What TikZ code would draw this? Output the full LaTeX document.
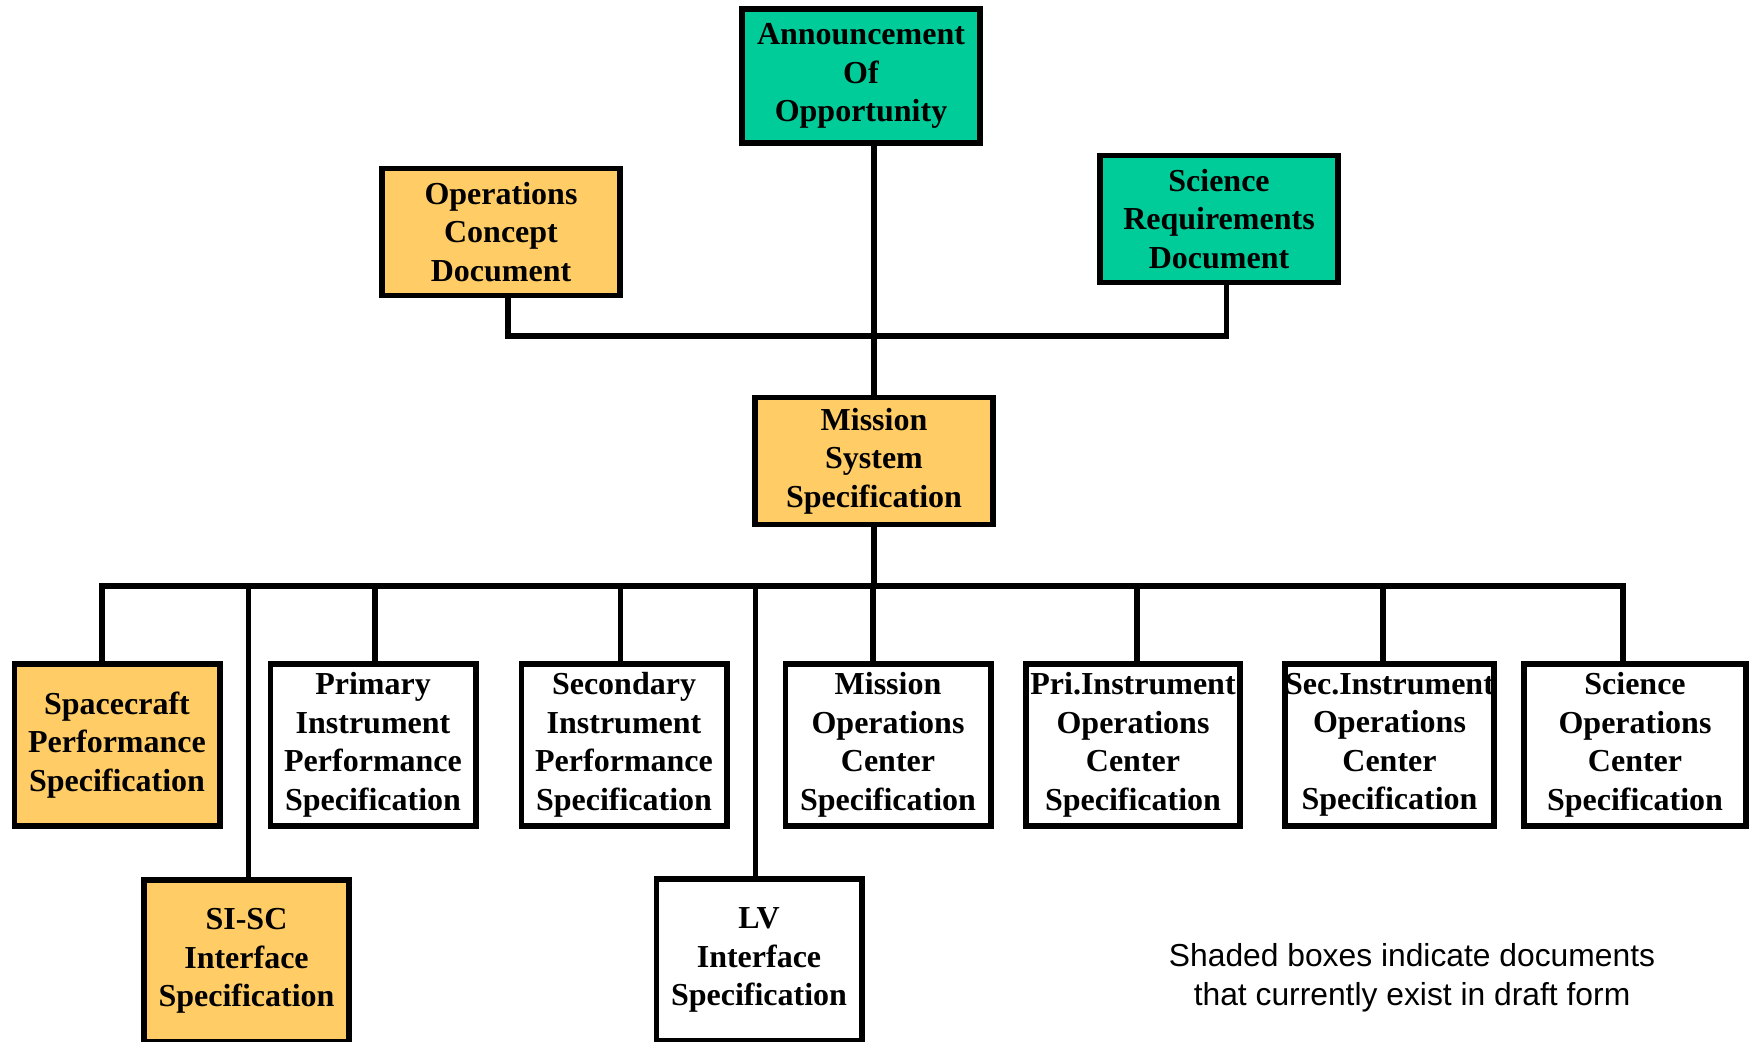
\documentclass[tikz,border=0pt]{standalone}
\usepackage{fontspec}
\setmainfont{Liberation Serif}
\newfontfamily\notefont{Liberation Sans}
\usepackage{tikz}
\usetikzlibrary{positioning}

\definecolor{aoteal}{RGB}{0,204,153}
\definecolor{draftgold}{RGB}{255,204,102}

\begin{document}
\begin{tikzpicture}[
    on grid,
    docbox/.style={rectangle, draw, line width=2.8pt, align=center, inner sep=0pt, font=\bfseries\fontsize{16pt}{19.25pt}\selectfont},
    topdoc/.style={docbox, minimum width=119pt, minimum height=63.5pt},
    lowdoc/.style={docbox, minimum width=102.7pt, minimum height=81.2pt},
    released/.style={fill=aoteal},
    draft/.style={fill=draftgold},
    link/.style={line width=2.8pt},
    note/.style={align=center, font=\notefont\fontsize{15.9pt}{19.6pt}\selectfont}
]
\useasboundingbox (0,0) rectangle (874.5pt,-520.5pt);
\clip (0,0) rectangle (874.5pt,-520.5pt);

% Top level documents
\node[topdoc, released, minimum height=67.2pt] (ao) at (430.5pt,-38pt) {Announcement\\Of\\Opportunity};
\node[topdoc, draft, below left=78pt and 180pt of ao] (ocd) {Operations\\Concept\\Document};
\node[topdoc, released, below right=71.5pt and 179pt of ao] (srd) {Science\\Requirements\\Document};

% Mission level
\node[topdoc, draft, below right=192.5pt and 6.5pt of ao] (mss) {Mission\\System\\Specification};

% Specifications under the mission
\node[lowdoc, draft, below left=142pt and 378.5pt of mss] (sps) {Spacecraft\\Performance\\Specification};
\node[lowdoc, right=128pt of sps] (pips) {Primary\\Instrument\\Performance\\Specification};
\node[lowdoc, right=125.5pt of pips] (sips) {Secondary\\Instrument\\Performance\\Specification};
\node[lowdoc, right=132pt of sips] (mocs) {Mission\\Operations\\Center\\Specification};
\node[lowdoc, minimum width=107.2pt, right=122.5pt of mocs] (piocs) {Pri.Instrument\\Operations\\Center\\Specification};
\node[lowdoc, minimum width=103.7pt, right=128.25pt of piocs] (siocs) {Sec.Instrument\\Operations\\Center\\Specification};
\node[lowdoc, minimum width=111.2pt, right=122.75pt of siocs] (socs) {Science\\Operations\\Center\\Specification};

% Interface specs (second row)
\node[lowdoc, draft, below right=108pt and 64.75pt of sps] (sisc) {SI-SC\\Interface\\Specification};
\node[lowdoc, below right=107.5pt and 67.5pt of sips] (lv) {LV\\Interface\\Specification};

% Legend
\node[note, below right=9pt and 326.5pt of lv] (legend) {Shaded boxes indicate documents\\that currently exist in draft form};

% Connectors
\coordinate[above=62.5pt of mss] (hub);
\coordinate[below=62.5pt of mss] (bus);
\draw[link] (mss.north |- ao.south) -- (mss.north);
\draw[link] ([xshift=3.5pt]ocd.south) |- (hub) -| ([xshift=3.75pt]srd.south);
\draw[link] (mss.south) -- (bus);
\foreach \doc/\xoff in {sps/-7.5pt, sisc/1pt, pips/1pt, sips/-1.75pt, lv/-1.75pt, mocs/-7.5pt, piocs/2pt, siocs/-3.25pt, socs/-6pt}
    \draw[link] ([xshift=\xoff]\doc.north) |- (bus);

\end{tikzpicture}
\end{document}
